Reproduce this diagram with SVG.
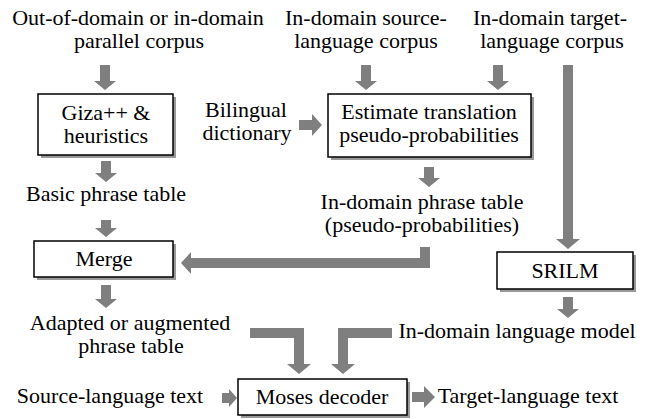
<svg xmlns="http://www.w3.org/2000/svg" width="648" height="419" viewBox="0 0 648 419">
<style>
text{font-size:22px;fill:#000;text-anchor:middle}
.box{fill:#fff;stroke:#000;stroke-width:1.5}
.sh{fill:#999}
.arr{fill:#7f7f7f}
</style>
<rect width="648" height="419" fill="#fff"/>
<g id="connectors">
<path class="arr" d="M100,65 H110 V81 H116 L105,90 L94,81 H100 Z"/>
<path class="arr" d="M361,65 H371 V81 H377 L366,90 L355,81 H361 Z"/>
<path class="arr" d="M493,65 H503 V81 H509 L498,90 L487,81 H493 Z"/>
<path class="arr" d="M563,65 H573 V239 H580 L568,249 L556,239 H563 Z"/>
<path class="arr" d="M101,161 H111 V173 H117 L106,182 L95,173 H101 Z"/>
<path class="arr" d="M424,167 H434 V178 H440 L429,187 L418,178 H424 Z"/>
<path class="arr" d="M101,220 H111 V228 H117 L106,237 L95,228 H101 Z"/>
<path class="arr" d="M101,285 H111 V299 H117 L106,308 L95,299 H101 Z"/>
<path class="arr" d="M563,297 H573 V309 H579 L568,318 L557,309 H563 Z"/>
<path class="arr" d="M430,247 V268 H191 V274 L181,263 L191,252 V258 H420 V247 Z"/>
<path class="arr" d="M250,328 H304 V364 H311 L299,374 L287,364 H294 V338 H250 Z"/>
<path class="arr" d="M392,328 V338 H348 V364 H355 L343,374 L331,364 H338 V328 Z"/>
<path class="arr" d="M299,120 H312 V114 L322,125 L312,136 V130 H299 Z"/>
<path class="arr" d="M222,393 H229 V389 L237,398 L229,407 V403 H222 Z"/>
<path class="arr" d="M412,392 H424 V386 L435,397 L424,408 V402 H412 Z"/>
</g>
<g font-family="Liberation Serif, Times New Roman, Tinos, DejaVu Serif, serif">
<g id="src-corpus"><text x="138" y="25">Out-of-domain or in-domain</text><text x="139" y="48">parallel corpus</text></g>
<g id="indomain-src"><text x="366" y="25">In-domain source-</text><text x="366" y="48">language corpus</text></g>
<g id="indomain-tgt"><text x="550" y="25">In-domain target-</text><text x="552" y="48">language corpus</text></g>
<g id="giza"><rect class="sh" x="41" y="97" width="135" height="61"/><rect class="box" x="38" y="94" width="135" height="61"/><text x="106" y="120">Giza++ &amp;</text><text x="106" y="143">heuristics</text></g>
<g id="dict"><text x="246" y="117">Bilingual</text><text x="247" y="140">dictionary</text></g>
<g id="estimate"><rect class="sh" x="331" y="97" width="203" height="63"/><rect class="box" x="328" y="94" width="203" height="63"/><text x="429" y="119">Estimate translation</text><text x="429" y="142">pseudo-probabilities</text></g>
<g id="basic"><text x="106" y="201">Basic phrase table</text></g>
<g id="indomain-pt"><text x="422" y="209">In-domain phrase table</text><text x="422" y="232">(pseudo-probabilities)</text></g>
<g id="merge"><rect class="sh" x="37" y="244" width="139" height="36"/><rect class="box" x="34" y="241" width="139" height="36"/><text x="104" y="266">Merge</text></g>
<g id="srilm"><rect class="sh" x="500" y="255" width="136" height="37"/><rect class="box" x="497" y="252" width="136" height="37"/><text x="565" y="278">SRILM</text></g>
<g id="adapted"><text x="130" y="330">Adapted or augmented</text><text x="131" y="353">phrase table</text></g>
<g id="lm"><text x="517" y="338">In-domain language model</text></g>
<g id="srctext"><text x="110" y="403">Source-language text</text></g>
<g id="moses"><rect class="sh" x="241" y="382" width="169" height="36"/><rect class="box" x="238" y="379" width="169" height="36"/><text x="322" y="404">Moses decoder</text></g>
<g id="tgttext"><text x="528" y="403">Target-language text</text></g>
</g>
</svg>
